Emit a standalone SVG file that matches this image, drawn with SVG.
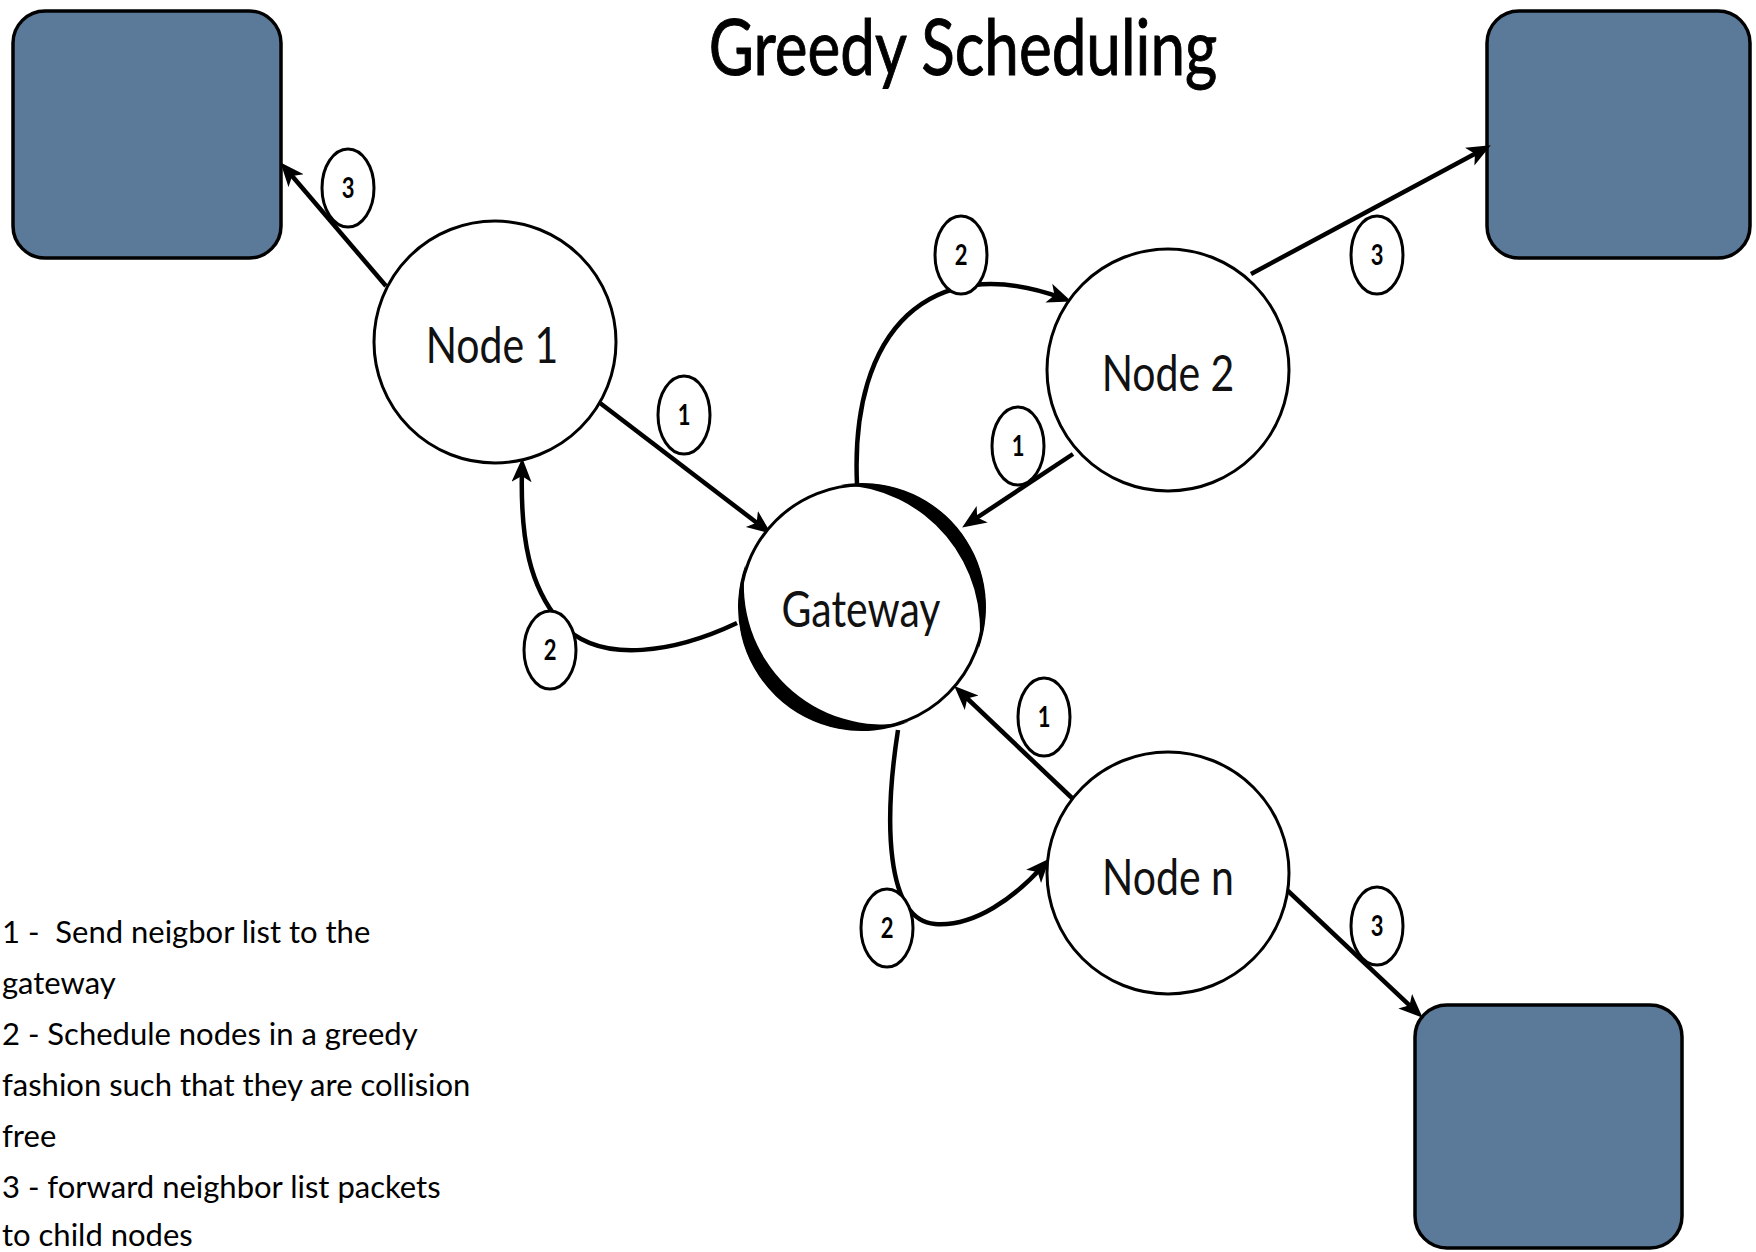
<svg xmlns="http://www.w3.org/2000/svg" width="1756" height="1252" viewBox="0 0 1756 1252">
<style>
  .box { fill: #5b7a99; stroke: #000; stroke-width: 3.5; }
  .node { fill: #fff; stroke: #000; stroke-width: 3; }
  .thick { fill: #000; stroke: none; }
  .conn { fill: none; stroke: #000; stroke-width: 4.5; marker-end: url(#arrow); }
  .lbl { fill: #fff; stroke: #000; stroke-width: 3; }
  .num { font-family: Lato, "Liberation Sans", sans-serif; font-weight: bold; font-size: 22px; text-anchor: middle; fill: #000; }
  .ntext { font-family: Lato, "Liberation Sans", sans-serif; font-size: 41px; text-anchor: middle; fill: #111; }
  .title { font-family: Lato, "Liberation Sans", sans-serif; font-size: 62px; text-anchor: middle; fill: #000; stroke: #000; stroke-width: 0.8; }
  .legend { font-family: Lato, "Liberation Sans", sans-serif; font-size: 31px; fill: #000; white-space: pre; }
</style>
<defs>
  <marker id="arrow" markerUnits="userSpaceOnUse" markerWidth="26" markerHeight="22" refX="14" refY="10" orient="auto">
    <path d="M0,0 L24,10 L0,20 L6,10 z" fill="#000"/>
  </marker>
</defs>
<rect width="1756" height="1252" fill="#fff"/>

<text class="title" transform="translate(963,75) scale(1,1.25)">Greedy Scheduling</text>

<g id="box-top-left"><rect class="box" x="13" y="11" width="268" height="247" rx="32"/></g>
<g id="box-top-right"><rect class="box" x="1487" y="11" width="263" height="247" rx="32"/></g>
<g id="box-bottom-right"><rect class="box" x="1415" y="1005" width="267" height="243" rx="32"/></g>

<g id="connectors">
  <line class="conn" x1="386" y1="286" x2="287" y2="170"/>
  <line class="conn" x1="600" y1="403" x2="763" y2="527.5"/>
  <path class="conn" d="M737,623 C680,650 600,668 560,622 C530,587 520,540 522,468"/>
  <path class="conn" d="M857,484 C850,330 930,250 1062,298"/>
  <line class="conn" x1="1073" y1="454" x2="970.5" y2="522"/>
  <line class="conn" x1="1251" y1="274" x2="1482" y2="150"/>
  <line class="conn" x1="1073" y1="799" x2="961.5" y2="693"/>
  <path class="conn" d="M898,730 C884,820 885,920 935,924 C975,927 1015,897 1043,866"/>
  <line class="conn" x1="1287" y1="890" x2="1415.4" y2="1010.8"/>
</g>

<g id="node-1">
  <circle class="node" cx="495" cy="342" r="121"/>
  <text class="ntext" transform="translate(492,363) scale(1,1.25)">Node 1</text>
</g>
<g id="node-2">
  <circle class="node" cx="1168" cy="370" r="121"/>
  <text class="ntext" transform="translate(1168,391) scale(1,1.25)">Node 2</text>
</g>
<g id="node-n">
  <circle class="node" cx="1168" cy="873" r="121"/>
  <text class="ntext" transform="translate(1168,895) scale(1,1.25)">Node n</text>
</g>
<g id="gateway">
  <circle class="node" cx="862" cy="607" r="122"/>
  <path class="thick" d="M840.5,484.9 A124,124 0 0 1 978.5,649.4 A144.2,144.2 0 0 0 840.5,484.9 Z"/>
  <path class="thick" d="M745.5,564.6 A124,124 0 0 0 908.5,722 A138.8,138.8 0 0 1 745.5,564.6 Z"/>
  <text class="ntext" transform="translate(861,627) scale(1,1.25)">Gateway</text>
</g>

<g id="label-3a"><ellipse class="lbl" cx="348" cy="188" rx="26" ry="39"/><text class="num" transform="translate(348,198) scale(1,1.3)">3</text></g>
<g id="label-1a"><ellipse class="lbl" cx="684" cy="415" rx="26" ry="39"/><text class="num" transform="translate(684,425) scale(1,1.3)">1</text></g>
<g id="label-2a"><ellipse class="lbl" cx="550" cy="650" rx="26" ry="39"/><text class="num" transform="translate(550,660) scale(1,1.3)">2</text></g>
<g id="label-2b"><ellipse class="lbl" cx="961" cy="255" rx="26" ry="39"/><text class="num" transform="translate(961,265) scale(1,1.3)">2</text></g>
<g id="label-1b"><ellipse class="lbl" cx="1018" cy="446" rx="26" ry="39"/><text class="num" transform="translate(1018,456) scale(1,1.3)">1</text></g>
<g id="label-3b"><ellipse class="lbl" cx="1377" cy="255" rx="26" ry="39"/><text class="num" transform="translate(1377,265) scale(1,1.3)">3</text></g>
<g id="label-1c"><ellipse class="lbl" cx="1044" cy="717" rx="26" ry="39"/><text class="num" transform="translate(1044,727) scale(1,1.3)">1</text></g>
<g id="label-2c"><ellipse class="lbl" cx="887" cy="928" rx="26" ry="39"/><text class="num" transform="translate(887,938) scale(1,1.3)">2</text></g>
<g id="label-3c"><ellipse class="lbl" cx="1377" cy="926" rx="26" ry="39"/><text class="num" transform="translate(1377,936) scale(1,1.3)">3</text></g>

<g id="legend">
  <text class="legend" x="2" y="943" xml:space="preserve">1 -  Send neigbor list to the</text>
  <text class="legend" x="2" y="994">gateway</text>
  <text class="legend" x="2" y="1045">2 - Schedule nodes in a greedy</text>
  <text class="legend" x="2" y="1096">fashion such that they are collision</text>
  <text class="legend" x="2" y="1147">free</text>
  <text class="legend" x="2" y="1198">3 - forward neighbor list packets</text>
  <text class="legend" x="2" y="1246">to child nodes</text>
</g>
</svg>
